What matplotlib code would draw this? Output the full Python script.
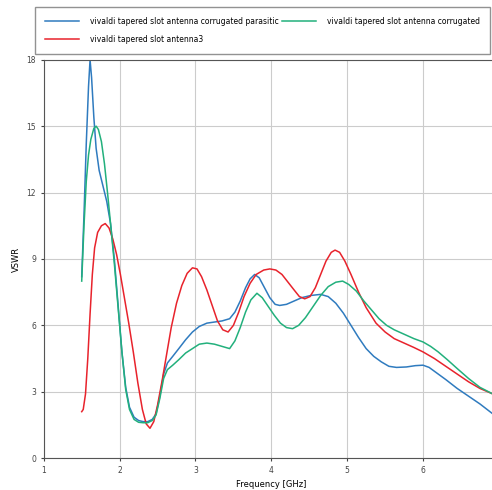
import numpy as np
import matplotlib
matplotlib.use('Agg')
import matplotlib.pyplot as plt

# Frecuencia [GHz] y VSWR
f_parasitic = [1.50, 1.53, 1.56, 1.59, 1.61, 1.63, 1.66, 1.69, 1.73, 1.78, 1.83, 1.88,
               1.93, 1.98, 2.03, 2.08, 2.13, 2.19, 2.25, 2.31, 2.37, 2.43, 2.48, 2.53,
               2.58, 2.63, 2.70, 2.78, 2.87, 2.96, 3.05, 3.15, 3.25, 3.35, 3.45, 3.52,
               3.59, 3.66, 3.72, 3.78, 3.84, 3.91, 3.98, 4.05, 4.11, 4.20, 4.30, 4.40,
               4.52, 4.65, 4.75, 4.85, 4.95, 5.05, 5.15, 5.25, 5.35, 5.45, 5.55, 5.65,
               5.78, 5.90, 6.00, 6.08, 6.18, 6.30, 6.45, 6.60, 6.75, 6.92]
v_parasitic = [8.2, 11.0, 14.2, 16.8, 18.0, 17.2, 15.4, 14.0, 13.0, 12.3, 11.6, 10.6,
               9.0, 6.9, 4.8, 3.2, 2.3, 1.85, 1.7, 1.65, 1.65, 1.75, 2.0, 2.8,
               3.8, 4.3, 4.6, 4.95, 5.35, 5.7, 5.95, 6.1, 6.15, 6.2, 6.3, 6.6,
               7.1, 7.7, 8.1, 8.3, 8.15, 7.7, 7.25, 6.95, 6.9, 6.95, 7.1, 7.25,
               7.35, 7.4, 7.3, 7.0, 6.55, 6.0, 5.45, 4.95, 4.6, 4.35, 4.15, 4.1,
               4.12, 4.18, 4.2, 4.1, 3.85, 3.55, 3.15, 2.8, 2.45, 2.0]

f_corrugated = [1.50, 1.53, 1.56, 1.59, 1.62, 1.66, 1.69, 1.72, 1.76, 1.80, 1.84, 1.88,
                1.93, 1.98, 2.03, 2.08, 2.13, 2.19, 2.25, 2.31, 2.37, 2.43, 2.48, 2.53,
                2.58, 2.63, 2.70, 2.78, 2.87, 2.96, 3.05, 3.15, 3.25, 3.35, 3.45, 3.52,
                3.59, 3.66, 3.73, 3.81, 3.88, 3.96, 4.04, 4.12, 4.20, 4.28, 4.36, 4.45,
                4.55, 4.65, 4.75, 4.85, 4.94, 5.02, 5.12, 5.22, 5.32, 5.42, 5.52, 5.62,
                5.75, 5.88, 6.00, 6.10, 6.20, 6.32, 6.45, 6.60, 6.75, 6.92]
v_corrugated = [8.0, 10.5, 12.5, 13.7, 14.4, 14.9, 15.0, 14.85, 14.3, 13.3, 12.0, 10.6,
                8.8, 6.8, 4.8, 3.1, 2.2, 1.75, 1.62, 1.6, 1.6, 1.7, 1.95, 2.7,
                3.6, 4.0, 4.2, 4.45, 4.75, 4.95, 5.15, 5.2, 5.15, 5.05, 4.95, 5.3,
                5.9, 6.6, 7.15, 7.45, 7.25, 6.85, 6.45, 6.1, 5.9, 5.85, 6.0, 6.35,
                6.85, 7.35, 7.75, 7.95, 8.0, 7.85, 7.55, 7.1, 6.7, 6.3, 6.0, 5.8,
                5.6, 5.4, 5.25, 5.05, 4.8, 4.45, 4.05, 3.6, 3.2, 2.9]

f_antenna3 = [1.50, 1.52, 1.55, 1.58, 1.61, 1.64, 1.67, 1.71, 1.76, 1.81, 1.86, 1.91,
              1.96, 2.01, 2.06, 2.12, 2.18, 2.24, 2.30, 2.35, 2.40, 2.45, 2.50, 2.56,
              2.62, 2.68, 2.75, 2.82, 2.89, 2.96, 3.02, 3.08, 3.15, 3.22, 3.29, 3.36,
              3.43, 3.50, 3.57, 3.64, 3.72, 3.80, 3.90, 3.98, 4.06, 4.14, 4.22, 4.30,
              4.37, 4.44, 4.51, 4.58, 4.65, 4.72, 4.79, 4.84, 4.90, 4.97, 5.05, 5.15,
              5.25, 5.38, 5.50, 5.62, 5.75, 5.88, 6.00, 6.15, 6.30, 6.45, 6.60, 6.75,
              6.92]
v_antenna3 = [2.1, 2.2, 2.9, 4.5, 6.5, 8.3, 9.5, 10.2, 10.5, 10.6, 10.4, 9.9,
              9.2, 8.3, 7.3, 6.1, 4.8, 3.4, 2.2, 1.55, 1.35, 1.65, 2.4, 3.5,
              4.7, 5.9, 7.0, 7.8, 8.35, 8.6, 8.55, 8.2, 7.6, 6.9, 6.2, 5.8,
              5.7, 6.0, 6.6, 7.3, 7.9, 8.3, 8.5, 8.55, 8.5, 8.3, 7.95, 7.6,
              7.3, 7.2, 7.3, 7.7, 8.3, 8.9, 9.3, 9.4, 9.3, 8.9, 8.3, 7.5,
              6.8, 6.1, 5.7, 5.4, 5.2, 5.0, 4.8, 4.5, 4.15, 3.8, 3.45, 3.15,
              2.9]

x_ticks = [1, 2, 3, 4, 5, 6]
y_ticks = [0, 3, 6, 9, 12, 15, 18]

fig = plt.figure(figsize=(4.92, 4.90), dpi=100)
ax = fig.add_axes([0.089, 0.065, 0.925, 0.813])

ax.plot(f_parasitic, v_parasitic, color='#2f7bbf', linewidth=1.1,
        label='vivaldi tapered slot antenna corrugated parasitic')
ax.plot(f_antenna3, v_antenna3, color='#e8232c', linewidth=1.1,
        label='vivaldi tapered slot antenna3')
ax.plot(f_corrugated, v_corrugated, color='#22b07c', linewidth=1.1,
        label='vivaldi tapered slot antenna corrugated')

ax.set_xlim(1, 7)
ax.set_ylim(0, 18)
ax.set_xticks(x_ticks)
ax.set_yticks(y_ticks)
ax.tick_params(labelsize=5.5, length=2, colors='#444444')
ax.grid(True, color='#cccccc', linewidth=0.8)
for s in ax.spines.values():
    s.set_color('#555555')
ax.set_xlabel('Frequency [GHz]', fontsize=6)
ax.set_ylabel('VSWR', fontsize=6)

fig.legend(loc='upper left', bbox_to_anchor=(0.071, 0.898, 0.925, 0.088),
           mode='expand', ncol=2, fontsize=5.5, frameon=True, fancybox=False,
           edgecolor='#777777', handlelength=4.5, handletextpad=1.4,
           borderpad=1.3, labelspacing=1.2, borderaxespad=0)

fig.savefig('out.png', dpi=100)
